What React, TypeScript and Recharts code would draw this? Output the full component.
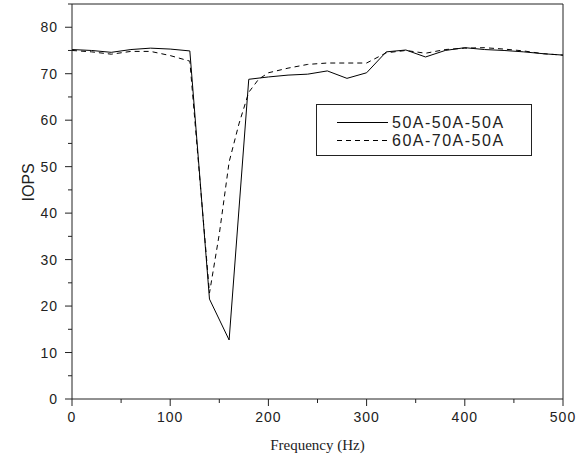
import { LineChart, Line, XAxis, YAxis, ReferenceLine } from "recharts";

const freqSolid = [0, 20, 40, 60, 80, 100, 120, 140, 160, 180, 200, 220, 240, 260, 280, 300, 320, 340, 360, 380, 400, 420, 440, 460, 480, 500];
const iopsSolid = [75.2, 75.0, 74.6, 75.2, 75.5, 75.3, 74.9, 21.5, 12.7, 68.8, 69.3, 69.7, 69.9, 70.6, 69.0, 70.2, 74.7, 75.1, 73.6, 75.0, 75.6, 75.2, 75.0, 74.7, 74.3, 74.0];

const freqDashed = [0, 20, 40, 60, 80, 100, 120, 140, 150, 160, 170, 180, 190, 200, 220, 240, 260, 280, 300, 320, 340, 360, 380, 400, 420, 440, 460, 480, 500];
const iopsDashed = [75.0, 74.7, 74.2, 74.8, 74.8, 73.9, 72.7, 22.8, 35.5, 51.0, 59.2, 66.0, 68.8, 70.2, 71.2, 72.0, 72.3, 72.3, 72.3, 74.5, 75.0, 74.4, 75.2, 75.5, 75.6, 75.3, 74.9, 74.3, 74.0];

const seriesNames = ["50A-50A-50A", "60A-70A-50A"];
const xTicks = [0, 50, 100, 150, 200, 250, 300, 350, 400, 450, 500];
const yTicks = [0, 5, 10, 15, 20, 25, 30, 35, 40, 45, 50, 55, 60, 65, 70, 75, 80, 85];

const solidData = freqSolid.map((f, i) => ({ freq: f, iops: iopsSolid[i] }));
const dashedData = freqDashed.map((f, i) => ({ freq: f, iops: iopsDashed[i] }));

const INK = "#222";
const PLOT_LEFT = 72;
const PLOT_BOTTOM = 399;

// axis ticks point outward; labelled ones are a bit longer
function XTick({ x, payload }: any) {
  const major = payload.value % 100 === 0;
  return (
    <g>
      <line x1={x} x2={x} y1={PLOT_BOTTOM} y2={PLOT_BOTTOM + (major ? 7 : 4)} stroke={INK} />
      {major && (
        <text x={x} y={421.5} textAnchor="middle" fontSize={14} letterSpacing={1} fill={INK} fontFamily="Liberation Sans, Arial, sans-serif">
          {payload.value}
        </text>
      )}
    </g>
  );
}

function YTick({ y, payload }: any) {
  const major = payload.value % 10 === 0;
  return (
    <g>
      <line x1={PLOT_LEFT - (major ? 7 : 4)} x2={PLOT_LEFT} y1={y} y2={y} stroke={INK} />
      {major && (
        <text x={58} y={y + 5} textAnchor="end" fontSize={14} letterSpacing={1} fill={INK} fontFamily="Liberation Sans, Arial, sans-serif">
          {payload.value}
        </text>
      )}
    </g>
  );
}

function LegendBox() {
  const rows = [
    { name: seriesNames[0], dash: undefined },
    { name: seriesNames[1], dash: "5 4" },
  ];
  return (
    <div
      style={{
        position: "absolute",
        left: 316,
        top: 104,
        width: 214,
        height: 41,
        border: `1px solid ${INK}`,
        background: "#fff",
        fontFamily: "Liberation Sans, Arial, sans-serif",
        fontSize: 16,
        color: INK,
        paddingTop: 9,
        boxSizing: "content-box",
      }}
    >
      {rows.map((r) => (
        <div key={r.name} style={{ display: "flex", alignItems: "center", height: 17.5, lineHeight: "17.5px" }}>
          <svg width={75} height={17} style={{ flex: "none" }}>
            <line x1={20} x2={71} y1={8.5} y2={8.5} stroke="#000" strokeDasharray={r.dash} />
          </svg>
          <span style={{ letterSpacing: 1.5, whiteSpace: "nowrap" }}>{r.name}</span>
        </div>
      ))}
    </div>
  );
}

export default function App() {
  return (
    <div style={{ position: "absolute", left: 0, top: 0, width: 576, height: 463, background: "#fff" }}>
      <LineChart width={576} height={463} margin={{ top: 4, right: 13, bottom: 0, left: 0 }}>
        <XAxis
          dataKey="freq"
          type="number"
          domain={[0, 500]}
          ticks={xTicks}
          interval={0}
          height={64}
          axisLine={{ stroke: INK }}
          tickLine={false}
          tick={<XTick />}
          allowDuplicatedCategory={false}
          label={{ value: "Frequency (Hz)", position: "insideBottom", offset: 13, fontSize: 15, fill: INK, fontFamily: "Liberation Serif, Times New Roman, serif" }}
        />
        <YAxis
          type="number"
          domain={[0, 85]}
          ticks={yTicks}
          interval={0}
          width={72}
          axisLine={{ stroke: INK }}
          tickLine={false}
          tick={<YTick />}
          label={{ value: "IOPS", angle: -90, position: "insideLeft", offset: 28, fontSize: 16, fill: INK, fontFamily: "Liberation Sans, Arial, sans-serif" }}
        />
        <ReferenceLine y={85} stroke={INK} />
        <ReferenceLine x={500} stroke={INK} />
        <Line data={solidData} dataKey="iops" name={seriesNames[0]} type="linear" stroke="#000" strokeWidth={1} dot={false} isAnimationActive={false} />
        <Line data={dashedData} dataKey="iops" name={seriesNames[1]} type="linear" stroke="#000" strokeWidth={1} strokeDasharray="5 4" dot={false} isAnimationActive={false} />
      </LineChart>
      <LegendBox />
    </div>
  );
}
